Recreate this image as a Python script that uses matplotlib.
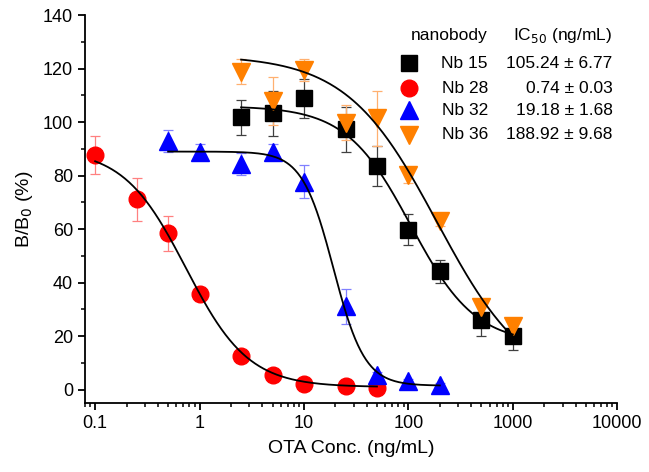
import numpy as np
import matplotlib
matplotlib.use("Agg")
import matplotlib.pyplot as plt
from matplotlib.ticker import FixedLocator, LogLocator, NullFormatter, FuncFormatter

plt.rcParams['font.family'] = ['Liberation Sans', 'DejaVu Sans']

# data (x in ng/mL, y in % B/B0)
names = ['Nb 15', 'Nb 28', 'Nb 32', 'Nb 36']
ic50_text = ['105.24 \u00b1 6.77', '0.74 \u00b1 0.03', '19.18 \u00b1 1.68', '188.92 \u00b1 9.68']

x_nb15 = [2.5, 5, 10, 25, 50, 100, 200, 500, 1000]
y_nb15 = [101.8, 103.3, 108.9, 97.3, 83.6, 59.7, 44.2, 26.0, 19.9]
e_nb15 = [6.5, 8.5, 7.3, 8.5, 7.6, 5.8, 4.2, 5.8, 5.0]

x_nb28 = [0.1, 0.25, 0.5, 1, 2.5, 5, 10, 25, 50]
y_nb28 = [87.7, 71.2, 58.5, 35.8, 12.7, 5.4, 2.2, 1.2, 0.6]
e_nb28 = [7.2, 8.1, 6.5, 2.5, 0.8, 0.6, 0.5, 0.4, 0.4]

x_nb32 = [0.5, 1, 2.5, 5, 10, 25, 50, 100, 200]
y_nb32 = [93.0, 89.0, 84.4, 89.0, 77.8, 31.1, 5.6, 3.1, 1.9]
e_nb32 = [4.0, 3.0, 4.0, 3.0, 6.0, 6.7, 1.0, 0.8, 0.5]

x_nb36 = [2.5, 5, 10, 25, 50, 100, 200, 500, 1000]
y_nb36 = [118.8, 107.9, 119.5, 99.8, 101.4, 80.3, 63.0, 30.9, 23.9]
e_nb36 = [4.7, 9.0, 4.0, 6.5, 10.4, 3.0, 2.0, 3.0, 2.0]

# 4PL fit parameters: top, bottom, IC50, hill
fit_top = [106, 90, 89, 125]
fit_bottom = [17, 1, 1.5, 0]
fit_ic50 = [105.24, 0.74, 19.18, 188.92]
fit_hill = [1.4, 1.45, 2.9, 1.0]

colors = ['#000000', '#ff0000', '#0000ff', '#ff8000']
err_colors = ['#404040', '#ff8080', '#8080ff', '#ffb070']
markers = ['s', 'o', '^', 'v']
msizes = [11, 12, 12.5, 12.5]

xs = [x_nb15, x_nb28, x_nb32, x_nb36]
ys = [y_nb15, y_nb28, y_nb32, y_nb36]
es = [e_nb15, e_nb28, e_nb32, e_nb36]

fig = plt.figure(figsize=(6.49, 4.72), dpi=100)
ax = fig.add_axes([0.131, 0.146, 0.820, 0.822])

for i in range(4):
    ax.errorbar(xs[i], ys[i], yerr=es[i], fmt='none', ecolor=err_colors[i],
                elinewidth=0.9, capsize=3.5, capthick=0.9, zorder=2)
    ax.plot(xs[i], ys[i], linestyle='', marker=markers[i], ms=msizes[i],
            color=colors[i], mec=colors[i], zorder=3)
    xf = np.logspace(np.log10(xs[i][0]), np.log10(xs[i][-1]), 200)
    yf = fit_bottom[i] + (fit_top[i] - fit_bottom[i]) / (1 + (xf / fit_ic50[i]) ** fit_hill[i])
    ax.plot(xf, yf, color='black', lw=1.3, zorder=4)

ax.set_xscale('log')
ax.set_xlim(0.08, 10000)
ax.set_ylim(-5, 140)
ax.set_yticks(np.arange(0, 141, 20))
ax.yaxis.set_minor_locator(FixedLocator(np.arange(10, 140, 20)))
ax.xaxis.set_major_locator(FixedLocator([0.1, 1, 10, 100, 1000, 10000]))
ax.xaxis.set_major_formatter(FuncFormatter(lambda v, p: '%g' % v))
ax.xaxis.set_minor_locator(LogLocator(base=10, subs=np.arange(2, 10)))
ax.xaxis.set_minor_formatter(NullFormatter())

for s in ['top', 'right']:
    ax.spines[s].set_visible(False)
for s in ['left', 'bottom']:
    ax.spines[s].set_linewidth(1.3)
ax.tick_params(which='major', direction='out', length=5, width=1.3, labelsize=13)
ax.tick_params(which='minor', direction='out', length=3, width=1.1)

ax.set_xlabel('OTA Conc. (ng/mL)', fontsize=14, labelpad=6)
ax.set_ylabel('B/B$_0$ (%)', fontsize=14, labelpad=6)

# table-like legend
ax.text(0.757, 0.948, 'nanobody', transform=ax.transAxes, ha='right', va='center', fontsize=12.5)
ax.text(0.991, 0.948, 'IC$_{50}$ (ng/mL)', transform=ax.transAxes, ha='right', va='center', fontsize=12.5)
row_y = [0.876, 0.811, 0.755, 0.691]
for i in range(4):
    ax.plot([0.609], [row_y[i]], transform=ax.transAxes, linestyle='', marker=markers[i],
            ms=msizes[i], color=colors[i], clip_on=False)
    ax.text(0.757, row_y[i], names[i], transform=ax.transAxes, ha='right', va='center', fontsize=12.5)
    ax.text(0.991, row_y[i], ic50_text[i], transform=ax.transAxes, ha='right', va='center', fontsize=12.5)

plt.savefig('out.png', dpi=100)
plt.close()
